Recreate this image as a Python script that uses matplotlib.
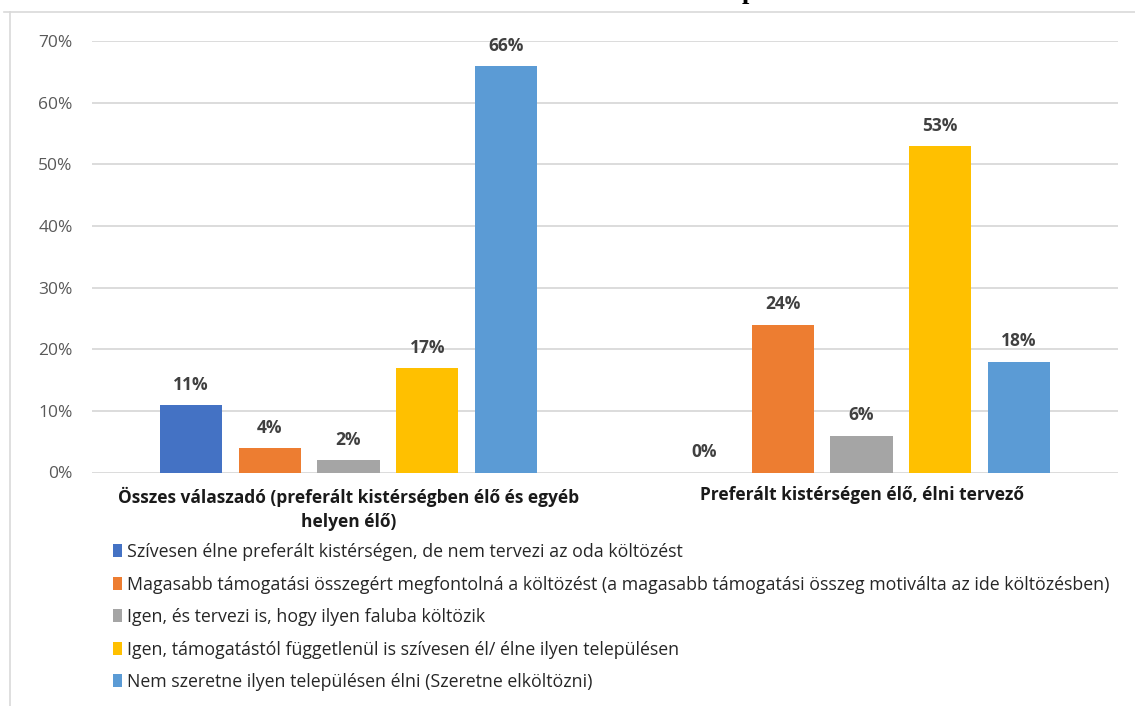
import matplotlib
matplotlib.use("Agg")
import matplotlib.pyplot as plt
from matplotlib.lines import Line2D
from matplotlib.ticker import PercentFormatter

# Survey answers (share of respondents) per respondent group
categories = [
    "Összes válaszadó (preferált kistérségben élő és egyéb\nhelyen élő)",
    "Preferált kistérségen élő, élni tervező",
]
series_labels = [
    "Szívesen élne preferált kistérségen, de nem tervezi az oda költözést",
    "Magasabb támogatási összegért megfontolná a költözést (a magasabb támogatási összeg motiválta az ide költözésben)",
    "Igen, és tervezi is, hogy ilyen faluba költözik",
    "Igen, támogatástól függetlenül is szívesen él/ élne ilyen településen",
    "Nem szeretne ilyen településen élni (Szeretne elköltözni)",
]
series_values = [
    [0.11, 0.00],
    [0.04, 0.24],
    [0.02, 0.06],
    [0.17, 0.53],
    [0.66, 0.18],
]
yticks = [0.0, 0.1, 0.2, 0.3, 0.4, 0.5, 0.6, 0.7]

colors = ["#4472C4", "#ED7D31", "#A5A5A5", "#FFC000", "#5B9BD5"]

plt.rcParams["font.family"] = ["Open Sans", "DejaVu Sans"]

W, H = 1135, 706
fig = plt.figure(figsize=(W / 100, H / 100), dpi=100)
fig.patch.set_facecolor("white")

# outer frame (top and left edges only)
fig.add_artist(Line2D([4 / W, 1], [1 - 12 / H, 1 - 12 / H], color="#D9D9D9", lw=1.2))
fig.add_artist(Line2D([10 / W, 10 / W], [0, 1 - 12 / H], color="#D9D9D9", lw=1.2))

# clipped title line above the frame
fig.text(749 / W, 1 + 1 / H, "p", family=["Liberation Serif", "DejaVu Serif"],
         fontweight="bold", fontsize=19, ha="center", va="baseline", color="black")

ax = fig.add_axes([92 / W, 1 - 472.5 / H, (1118 - 92) / W, (472.5 - 41) / H])
ax.set_ylim(0, 0.7)
ax.set_xlim(-0.5, len(categories) - 0.5)

n = len(series_values)
step = 0.1535
width = 0.121
handles = []
for i, (vals, lab, col) in enumerate(zip(series_values, series_labels, colors)):
    xs = [c + (i - (n - 1) / 2) * step for c in range(len(categories))]
    bars = ax.bar(xs, vals, width=width, color=col, label=lab, zorder=3)
    handles.append(bars)
    for x, v in zip(xs, vals):
        ax.annotate(f"{v * 100:.0f}%", (x, v), xytext=(0, 8), textcoords="offset points",
                    ha="center", va="bottom", fontsize=12.5, fontweight="bold",
                    color="#404040")

ax.set_yticks(yticks)
ax.yaxis.set_major_formatter(PercentFormatter(1.0, decimals=0))
ax.tick_params(axis="y", length=0, pad=14, labelsize=12.5, labelcolor="#595959")
ax.grid(axis="y", color="#D9D9D9", lw=1.3, zorder=0)
ax.set_axisbelow(True)
for s in ax.spines.values():
    s.set_visible(False)

ax.set_xticks(range(len(categories)))
ax.set_xticklabels(categories, fontsize=12.5, fontweight="bold", color="#1a1a1a",
                   linespacing=1.45)
ax.tick_params(axis="x", length=0, pad=10)

leg = fig.legend(handles=handles, loc="upper left", bbox_to_anchor=(113 / W, 1 - 543 / H),
                 frameon=False, fontsize=12.75, handlelength=0.5, handleheight=0.75,
                 handletextpad=0.3, labelspacing=0.82, borderaxespad=0, borderpad=0)
for t in leg.get_texts():
    t.set_color("#262626")

fig.savefig("out.png", dpi=100, facecolor="white")
